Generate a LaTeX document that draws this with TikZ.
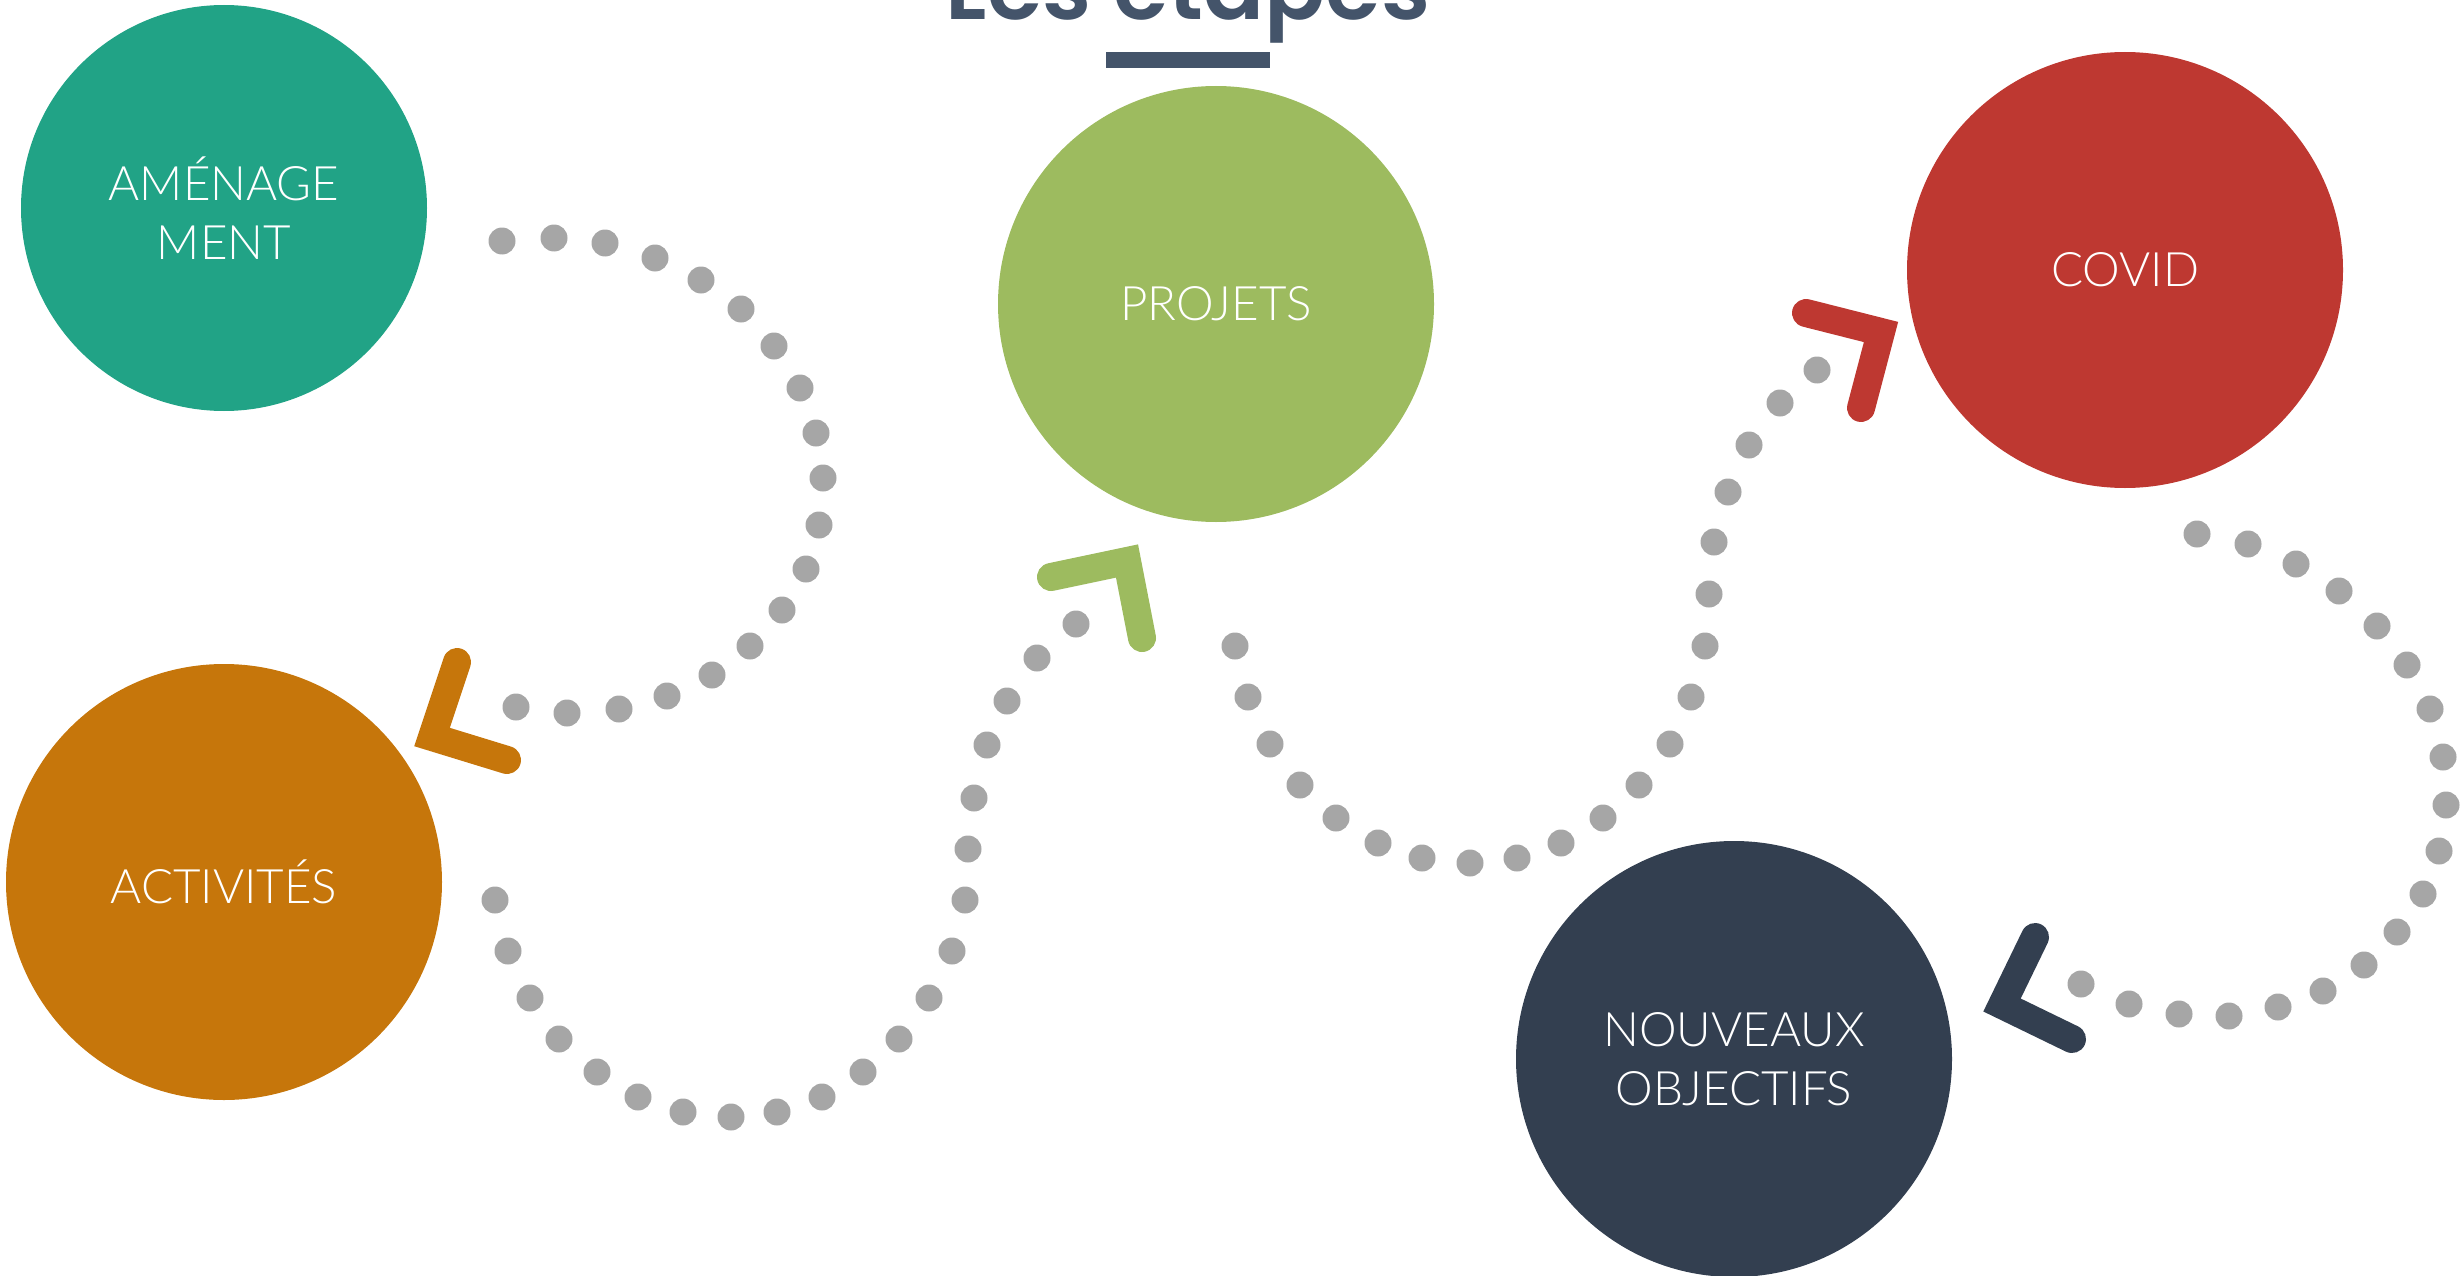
\documentclass[tikz,border=0pt]{standalone}
\usepackage{fontspec}
\IfFontExistsTF{Lato Light}{\newfontfamily\circfont{Lato Light}}{\newfontfamily\circfont{Lato}}
\IfFontExistsTF{Poppins SemiBold}{\newfontfamily\titlefont{Poppins SemiBold}}{\newfontfamily\titlefont{Poppins}}
\definecolor{cteal}{HTML}{21A386}
\definecolor{corange}{HTML}{C6760B}
\definecolor{cgreen}{HTML}{9DBB5F}
\definecolor{cred}{HTML}{BE3831}
\definecolor{cnavy}{HTML}{333F50}
\definecolor{cdot}{HTML}{A6A6A6}
\definecolor{ctitle}{HTML}{44546A}
\tikzset{
  stage/.style={circle, fill=#1, inner sep=0pt, text=white, align=center,
    font=\circfont\fontsize{47.5pt}{59pt}\selectfont},
  chev/.style={draw=#1, line width=28pt, line join=miter, line cap=round},
  dotmark/.style={fill=cdot}
}
\begin{document}
\begin{tikzpicture}[x=1pt,y=-1pt]
\useasboundingbox (0,0) rectangle (2464,1276);

% title
\node[font=\titlefont\fontsize{90pt}{90pt}\selectfont, text=ctitle, anchor=base, inner sep=0pt] (title) at (1188,20) {Les étapes};
\node[fill=ctitle, minimum width=164pt, minimum height=16pt, inner sep=0pt] (rule) at (1188,60) {};

% stages
\node[stage=cteal, minimum size=406pt] (amen) at (224,208) {AMÉNAGE\\MENT};
\node[stage=corange, minimum size=436pt] (acti) at (224,882) {ACTIVITÉS};
\node[stage=cgreen, minimum size=436pt] (proj) at (1216,304) {PROJETS};
\node[stage=cred, minimum size=436pt] (covid) at (2125,270) {COVID};
\node[stage=cnavy, minimum size=436pt] (nouv) at (1734,1059) {NOUVEAUX\\OBJECTIFS};

% dotted connectors (amen -> acti, acti -> proj, proj -> covid, covid -> nouv)
\foreach \x/\y in {502/241, 554/238, 605/243, 655/258, 701/280, 741/309, 774/346, 800/388, 816/433, 823/478, 819/525, 806/569, 782/610, 750/646, 712/675, 667/696, 619/709, 567/713, 516/707}
  \fill[dotmark] (\x,\y) circle (13.5pt);
\foreach \x/\y in {495/900, 508/951, 530/998, 559/1039, 597/1072, 638/1097, 683/1112, 731/1117, 777/1112, 822/1097, 863/1072, 899/1039, 929/998, 952/951, 965/900, 968/849, 974/798, 987/745, 1007/701, 1037/658, 1076/624}
  \fill[dotmark] (\x,\y) circle (13.5pt);
\foreach \x/\y in {1235/646, 1248/697, 1270/744, 1300/785, 1336/818, 1378/843, 1422/858, 1470/863, 1517/858, 1561/843, 1603/818, 1639/785, 1670/744, 1691/697, 1705/646, 1709/594, 1714/542, 1728/492, 1749/445, 1780/403, 1817/370}
  \fill[dotmark] (\x,\y) circle (13.5pt);
\foreach \x/\y in {2197/534, 2248/544, 2296/564, 2339/591, 2377/626, 2407/665, 2430/709, 2443/757, 2446/805, 2439/851, 2423/894, 2397/932, 2364/965, 2323/991, 2278/1007, 2229/1016, 2179/1014, 2129/1004, 2081/984}
  \fill[dotmark] (\x,\y) circle (13.5pt);

% chevron arrowheads
\coordinate (a1t) at (432,737); \coordinate (a1a) at (457,662); \coordinate (a1b) at (507,760);
\coordinate (a2t) at (1127,561); \coordinate (a2a) at (1051,577); \coordinate (a2b) at (1142,638);
\coordinate (a3t) at (1881,332); \coordinate (a3a) at (1806,313); \coordinate (a3b) at (1861,408);
\coordinate (a4t) at (2002,1005); \coordinate (a4a) at (2035,937); \coordinate (a4b) at (2072,1039);
\draw[chev=corange] (a1a) -- (a1t) -- (a1b);
\draw[chev=cgreen] (a2a) -- (a2t) -- (a2b);
\draw[chev=cred] (a3a) -- (a3t) -- (a3b);
\draw[chev=cnavy] (a4a) -- (a4t) -- (a4b);
\end{tikzpicture}
\end{document}
